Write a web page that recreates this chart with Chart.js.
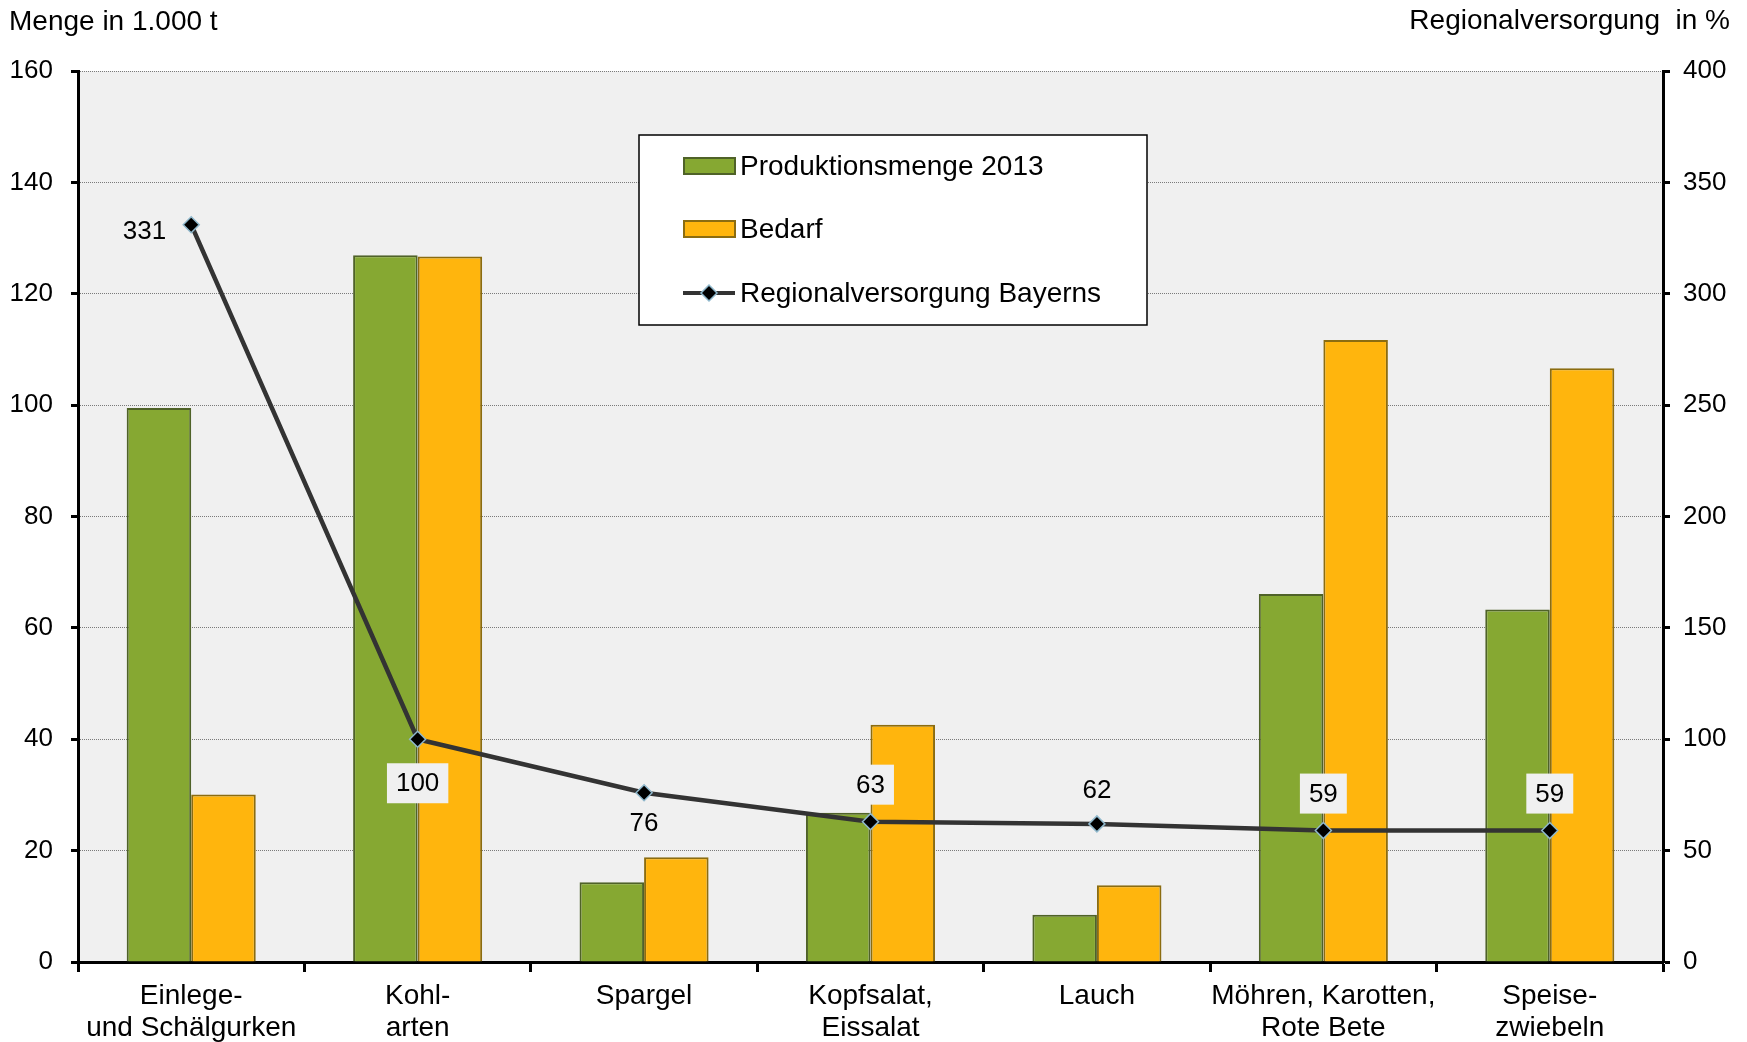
<!DOCTYPE html>
<html><head><meta charset="utf-8">
<script src="https://cdn.jsdelivr.net/npm/chart.js@4/dist/chart.umd.min.js"></script>
<style>html,body{margin:0;padding:0;background:#fff;} #wrap{width:1747px;height:1042px;}</style>
</head><body><div id="wrap"><canvas id="c" width="1747" height="1042"></canvas></div>
<script>
// ---- data ----
const categories = [["Einlege-","und Schälgurken"],["Kohl-","arten"],["Spargel"],["Kopfsalat,","Eissalat"],["Lauch"],["Möhren, Karotten,","Rote Bete"],["Speise-","zwiebeln"]];
const seriesNames = ["Produktionsmenge 2013","Bedarf","Regionalversorgung Bayerns"];
const production2013 = [99.5, 126.9, 14.3, 26.8, 8.5, 66.1, 63.3];
const demand = [30.1, 126.7, 18.8, 42.6, 13.8, 111.7, 106.6];
const selfSufficiency = [331, 100, 76, 63, 62, 59, 59];
const leftTickValues = [0, 20, 40, 60, 80, 100, 120, 140, 160];
const rightTickValues = [0, 50, 100, 150, 200, 250, 300, 350, 400];
const leftAxisTitle = "Menge in 1.000 t";
const rightAxisTitle = "Regionalversorgung  in %";

// ---- styles ----
const FONT = "'Liberation Sans', Arial, sans-serif";
const GREEN = '#86A832', GREEN_B = '#4F6228';
const ORANGE = '#FFB50D', ORANGE_B = '#8B6C10';
const LINE = '#333333', MARK_B = '#8FB8CC';
const PLOT_BG = '#F0F0F0';
const labelPlacement = [[-25,6,'right'],[0,44,'center'],[0,30,'center'],[0,-37,'center'],[0,-34,'center'],[0,-37,'center'],[0,-37,'center']];

const bgPlugin = {
  id: 'bg',
  beforeDraw(chart) {
    const {ctx, chartArea: a} = chart;
    ctx.save();
    ctx.fillStyle = '#fff';
    ctx.fillRect(0, 0, chart.width, chart.height);
    ctx.fillStyle = PLOT_BG;
    ctx.fillRect(a.left, a.top, a.right - a.left, a.bottom - a.top);
    ctx.restore();
  }
};

const labelPlugin = {
  id: 'lbls',
  afterDatasetsDraw(chart) {
    const ctx = chart.ctx;
    const meta = chart.getDatasetMeta(2);
    ctx.save();
    ctx.font = '26px ' + FONT;
    ctx.textBaseline = 'middle';
    meta.data.forEach((pt, i) => {
      const [dx, dy, align] = labelPlacement[i];
      const txt = String(chart.data.datasets[2].data[i]);
      const w = ctx.measureText(txt).width;
      let x = pt.x + dx, y = pt.y + dy;
      let left = align === 'right' ? x - w : x - w / 2;
      ctx.fillStyle = PLOT_BG;
      ctx.fillRect(left - 9, y - 20, w + 18, 40);
      ctx.fillStyle = '#000';
      ctx.textAlign = 'left';
      ctx.fillText(txt, left, y + 1);
    });
    ctx.restore();
  },
  afterDraw(chart) {
    const ctx = chart.ctx;
    ctx.save();
    // axis titles
    ctx.font = '28px ' + FONT;
    ctx.fillStyle = '#000';
    ctx.textBaseline = 'alphabetic';
    ctx.textAlign = 'left';
    ctx.fillText(leftAxisTitle, 9, 30);
    ctx.textAlign = 'right';
    ctx.fillText(rightAxisTitle, 1730, 29);
    // legend
    ctx.fillStyle = '#fff';
    ctx.fillRect(639, 135, 508, 190);
    ctx.strokeStyle = '#000';
    ctx.lineWidth = 1.5;
    ctx.strokeRect(639, 135, 508, 190);
    const rows = [166, 229, 293];
    const ds = chart.data.datasets;
    ctx.textAlign = 'left';
    ctx.textBaseline = 'middle';
    for (let i = 0; i < 3; i++) {
      const y = rows[i];
      if (i < 2) {
        ctx.fillStyle = ds[i].backgroundColor;
        ctx.fillRect(684, y - 8, 51, 16);
        ctx.strokeStyle = ds[i].borderColor;
        ctx.lineWidth = 2;
        ctx.strokeRect(684, y - 8, 51, 16);
      } else {
        ctx.strokeStyle = LINE;
        ctx.lineWidth = 4;
        ctx.beginPath(); ctx.moveTo(683, y); ctx.lineTo(735, y); ctx.stroke();
        ctx.beginPath();
        const cx = 709, r = 8;
        ctx.moveTo(cx, y - r); ctx.lineTo(cx + r, y); ctx.lineTo(cx, y + r); ctx.lineTo(cx - r, y); ctx.closePath();
        ctx.fillStyle = '#000'; ctx.fill();
        ctx.strokeStyle = MARK_B; ctx.lineWidth = 1.5; ctx.stroke();
      }
      ctx.fillStyle = '#000';
      ctx.font = '28px ' + FONT;
      ctx.fillText(ds[i].label, 740, y + 1);
    }
    ctx.restore();
  }
};

new Chart(document.getElementById('c'), {
  data: {
    labels: categories,
    datasets: [
      { type: 'bar', label: seriesNames[0], data: production2013, backgroundColor: GREEN, borderColor: GREEN_B, borderWidth: 2, yAxisID: 'y', order: 2, categoryPercentage: 0.57, barPercentage: 1.0 },
      { type: 'bar', label: seriesNames[1], data: demand, backgroundColor: ORANGE, borderColor: ORANGE_B, borderWidth: 2, yAxisID: 'y', order: 2, categoryPercentage: 0.57, barPercentage: 1.0 },
      { type: 'line', label: seriesNames[2], data: selfSufficiency, borderColor: LINE, borderWidth: 4.5, tension: 0, yAxisID: 'y1', order: 0,
        pointStyle: 'rectRot', pointRadius: 8, pointBackgroundColor: '#000', pointBorderColor: MARK_B, pointBorderWidth: 1.5 }
    ]
  },
  options: {
    responsive: false,
    animation: false,
    layout: { padding: { top: 71, left: 0, right: 0, bottom: 0 } },
    plugins: { legend: { display: false }, tooltip: { enabled: false } },
    scales: {
      x: {
        offset: true,
        grid: { offset: true, drawOnChartArea: false, drawTicks: true, tickLength: 10, tickWidth: 3, tickColor: '#000' },
        border: { display: true, color: '#000', width: 3 },
        ticks: { color: '#000', font: { family: FONT, size: 28, lineHeight: 1.12 }, padding: 9, maxRotation: 0, autoSkip: false },
        afterFit(s) { s.height = 80; }
      },
      y: {
        position: 'left',
        min: leftTickValues[0], max: leftTickValues[leftTickValues.length - 1],
        afterBuildTicks(s) { s.ticks = leftTickValues.map(v => ({ value: v })); },
        grid: { color: '#7a7a7a', lineWidth: 1, tickColor: '#000', tickWidth: 3, tickLength: 7 },
        border: { display: true, color: '#000', width: 3, dash: [1, 1] },
        ticks: { color: '#000', font: { family: FONT, size: 26 }, padding: 18 },
        afterFit(s) { s.width = 78; }
      },
      y1: {
        position: 'right',
        min: rightTickValues[0], max: rightTickValues[rightTickValues.length - 1],
        afterBuildTicks(s) { s.ticks = rightTickValues.map(v => ({ value: v })); },
        grid: { drawOnChartArea: false, tickColor: '#000', tickWidth: 3, tickLength: 7 },
        border: { display: true, color: '#000', width: 3 },
        ticks: { color: '#000', font: { family: FONT, size: 26 }, padding: 13 },
        afterFit(s) { s.width = 84; }
      }
    }
  },
  plugins: [bgPlugin, labelPlugin]
});
</script></body></html>
